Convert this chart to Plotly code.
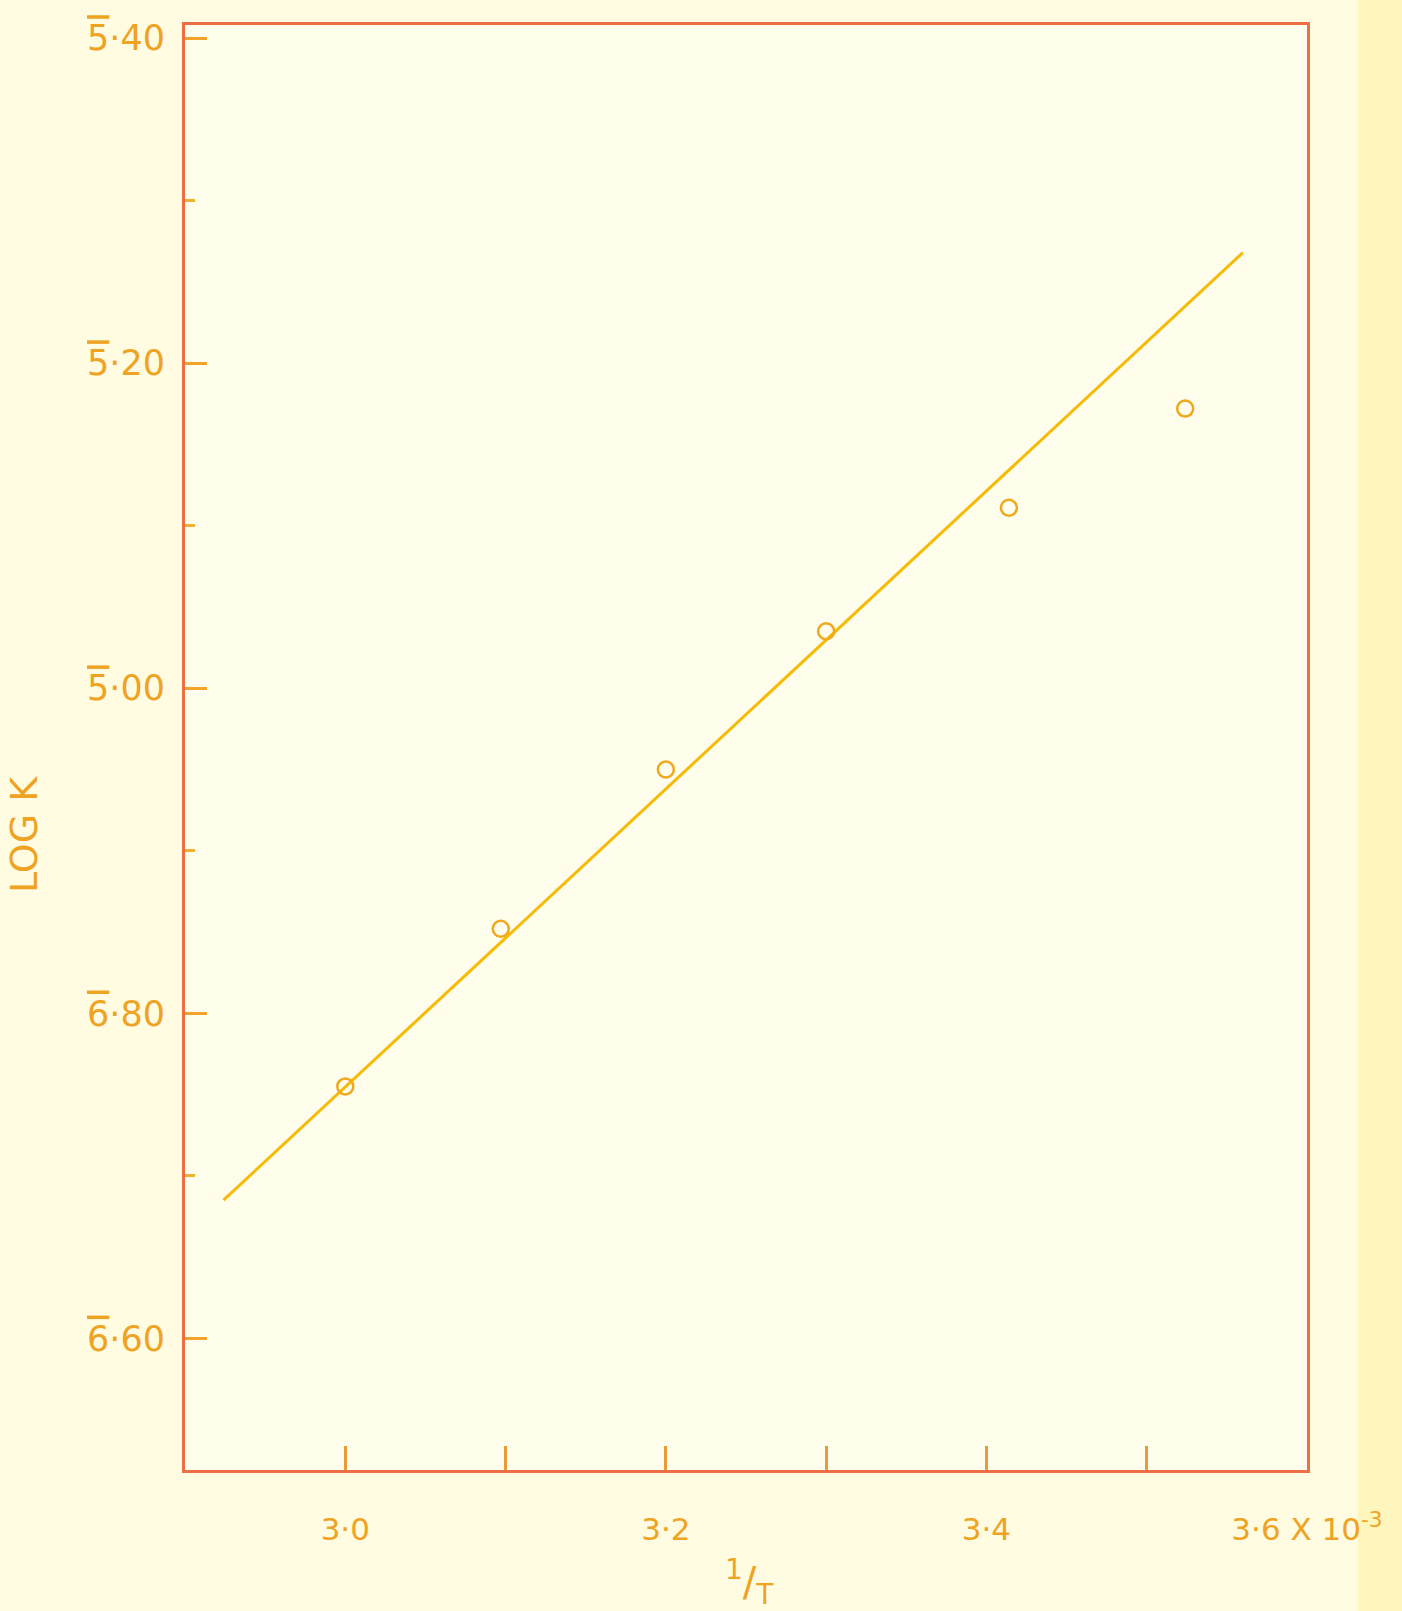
import plotly.graph_objects as go

# Measured points: reciprocal temperature (x 10^-3) and log K
inv_t = [3.00, 3.097, 3.20, 3.30, 3.414, 3.524]
log_k = [-5.245, -5.148, -5.050, -4.965, -4.889, -4.828]

# End points of the fitted straight line
fit_inv_t = [2.924, 3.560]
fit_log_k = [-5.315, -4.732]

# Axis ticks (bar notation: negative characteristic, positive mantissa)
x_tick_vals = [3.0, 3.1, 3.2, 3.3, 3.4, 3.5, 3.6]
x_tick_text = ["3·0", "", "3·2", "", "3·4", "", "3·6 X 10<sup>-3</sup>"]
y_tick_vals = [-5.4, -5.2, -5.0, -4.8, -4.6]
y_characteristic = ["6", "6", "5", "5", "5"]
y_mantissa = ["60", "80", "00", "20", "40"]
y_tick_text = [
    "<span style='text-decoration:overline'>%s</span>·%s" % (c, m)
    for c, m in zip(y_characteristic, y_mantissa)
]

frame_col = "#ee6f45"
text_col = "#efa322"
line_col = "#f6bb06"
font = "DejaVu Sans, Liberation Sans, sans-serif"

fig = go.Figure()
fig.add_trace(go.Scatter(
    x=fit_inv_t, y=fit_log_k, mode="lines",
    line=dict(color=line_col, width=3), showlegend=False,
))
fig.add_trace(go.Scatter(
    x=inv_t, y=log_k, mode="markers",
    marker=dict(symbol="circle-open", size=16, color="#f0a81c", line=dict(width=2.5)),
    showlegend=False,
))

fig.update_layout(
    width=1402, height=1611,
    margin=dict(l=185, r=95, t=25, b=141),
    paper_bgcolor="#fffce2",
    plot_bgcolor="#fffdec",
    font=dict(family=font, color=text_col, size=30),
    xaxis=dict(
        range=[2.9, 3.6], tickvals=x_tick_vals, ticktext=x_tick_text,
        ticks="inside", ticklen=24, tickwidth=3, tickcolor="#e99a3a",
        showline=True, mirror=True, linecolor=frame_col, linewidth=3,
        showgrid=False, zeroline=False, ticklabelstandoff=30,
        tickfont=dict(size=31, color=text_col, family=font),
    ),
    yaxis=dict(
        range=[-5.481, -4.592], tickvals=y_tick_vals, ticktext=y_tick_text,
        ticks="inside", ticklen=22, tickwidth=3, tickcolor="#f2a42a",
        minor=dict(tick0=-5.4, dtick=0.1, ticks="inside", ticklen=10,
                   tickwidth=3, tickcolor="#f2b030"),
        showline=True, mirror=True, linecolor=frame_col, linewidth=3,
        showgrid=False, zeroline=False, ticklabelstandoff=10,
        tickfont=dict(size=35, color=text_col, family=font),
    ),
    shapes=[
        dict(type="rect", xref="paper", yref="paper", layer="below",
             x0=1.045, x1=1.09, y0=-0.1, y1=1.02,
             fillcolor="#fff6bd", line=dict(width=0)),
    ],
    annotations=[
        dict(text="LOG K", textangle=-90, xref="paper", yref="paper",
             x=-0.165, y=0.44, xanchor="left", yanchor="middle", showarrow=False,
             font=dict(size=38, color=text_col, family=font)),
        dict(text="<sup>1</sup>/<sub>T</sub>", xref="paper", yref="paper",
             x=0.503, y=-0.056, yanchor="top", showarrow=False,
             font=dict(size=40, color=text_col, family=font)),
    ],
)

fig.write_html("out.html")
